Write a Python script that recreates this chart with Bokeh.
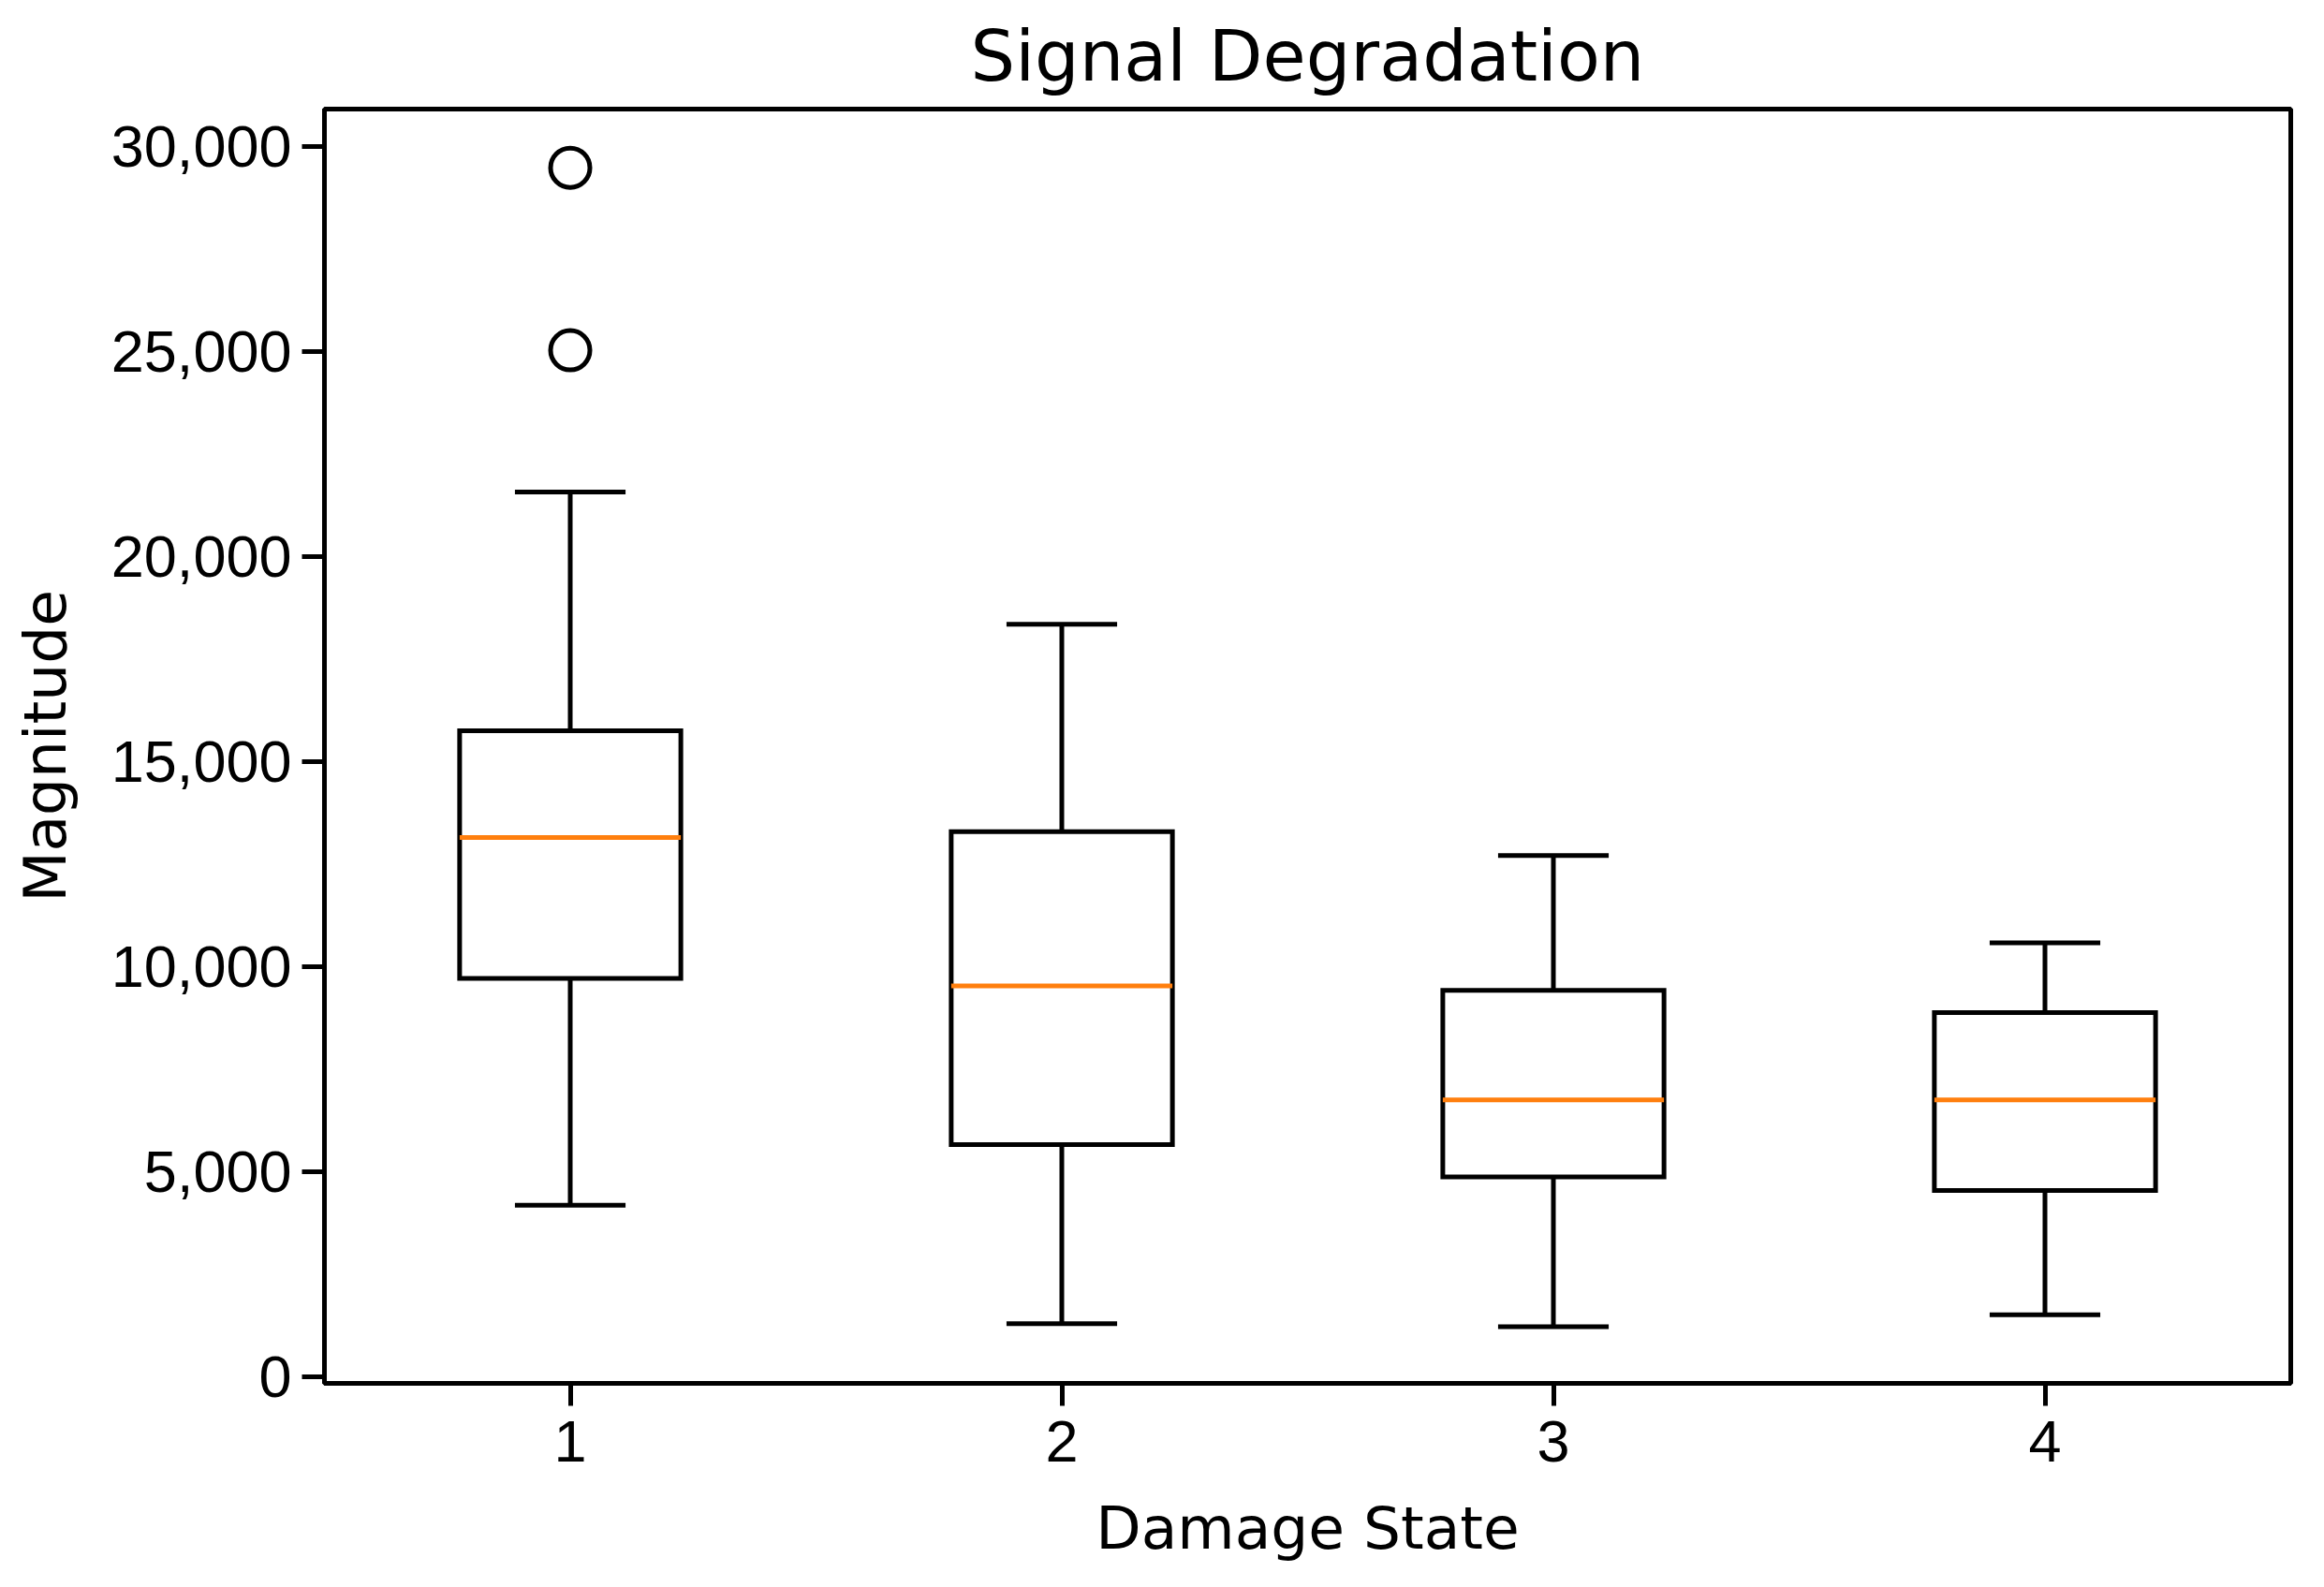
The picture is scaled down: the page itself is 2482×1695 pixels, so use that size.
from bokeh.plotting import figure
from bokeh.models import Range1d, FixedTicker, NumeralTickFormatter
from bokeh.embed import file_html
from bokeh.resources import INLINE

# ---- data ----
states = [1, 2, 3, 4]
whisker_low = [4190, 1300, 1230, 1520]
q1 = [9720, 5670, 4880, 4550]
median = [13160, 9540, 6760, 6760]
q3 = [15760, 13300, 9430, 8890]
whisker_high = [21580, 18360, 12720, 10590]
outlier_state = [1, 1]
outlier_value = [29490, 25040]
x_tick_labels = ["1", "2", "3", "4"]
y_ticks = [0, 5000, 10000, 15000, 20000, 25000, 30000]

BOX_W = 0.45
CAP_W = 0.225
LW = 5

p = figure(
    width=2466, height=1679,
    x_range=Range1d(0.5, 4.5), y_range=Range1d(-153, 30920),
    output_backend="svg", toolbar_location=None,
    title="Signal Degradation",
    x_axis_label="Damage State", y_axis_label="Magnitude",
    min_border_left=346, min_border_right=20,
    min_border_top=115, min_border_bottom=202,
)
p.background_fill_color = "white"
p.border_fill_color = "white"
p.outline_line_color = "black"
p.outline_line_width = LW
p.xgrid.visible = False
p.ygrid.visible = False

p.title.text_font = "DejaVu Sans"
p.title.text_font_size = "75px"
p.title.text_font_style = "normal"
p.title.text_color = "black"
p.title.align = "center"
p.title.standoff = 26

for ax in (p.xaxis[0], p.yaxis[0]):
    ax.axis_line_color = "black"
    ax.axis_line_width = LW
    ax.major_tick_line_color = "black"
    ax.major_tick_line_width = LW
    ax.major_tick_out = 24
    ax.major_tick_in = 0
    ax.minor_tick_out = 0
    ax.minor_tick_in = 0
    ax.major_label_text_font = "Liberation Sans"
    ax.major_label_text_font_size = "63px"
    ax.major_label_text_color = "black"
    ax.axis_label_text_font = "DejaVu Sans"
    ax.axis_label_text_font_size = "63px"
    ax.axis_label_text_font_style = "normal"
    ax.axis_label_text_color = "black"

p.xaxis.ticker = FixedTicker(ticks=states)
p.xaxis.major_label_overrides = {s: l for s, l in zip(states, x_tick_labels)}
p.xaxis.major_label_standoff = 16
p.xaxis.axis_label_standoff = 32

p.yaxis.ticker = FixedTicker(ticks=y_ticks)
p.yaxis.formatter = NumeralTickFormatter(format="0,0")
p.yaxis.major_label_standoff = 11
p.yaxis.axis_label_standoff = 31

# whiskers
p.segment(x0=states, y0=q3, x1=states, y1=whisker_high, line_color="black", line_width=LW)
p.segment(x0=states, y0=q1, x1=states, y1=whisker_low, line_color="black", line_width=LW)
# caps
cap_l = [s - CAP_W / 2 for s in states]
cap_r = [s + CAP_W / 2 for s in states]
p.segment(x0=cap_l, y0=whisker_high, x1=cap_r, y1=whisker_high, line_color="black", line_width=LW)
p.segment(x0=cap_l, y0=whisker_low, x1=cap_r, y1=whisker_low, line_color="black", line_width=LW)
# boxes
p.vbar(x=states, width=BOX_W, bottom=q1, top=q3, fill_color="white",
       line_color="black", line_width=LW, line_join="miter")
# medians
box_l = [s - BOX_W / 2 for s in states]
box_r = [s + BOX_W / 2 for s in states]
p.segment(x0=box_l, y0=median, x1=box_r, y1=median, line_color="#ff7f0e", line_width=LW)
# outliers
p.scatter(x=outlier_state, y=outlier_value, marker="circle", size=42,
          fill_color=None, line_color="black", line_width=LW)

open("out.html", "w").write(file_html(p, INLINE))
